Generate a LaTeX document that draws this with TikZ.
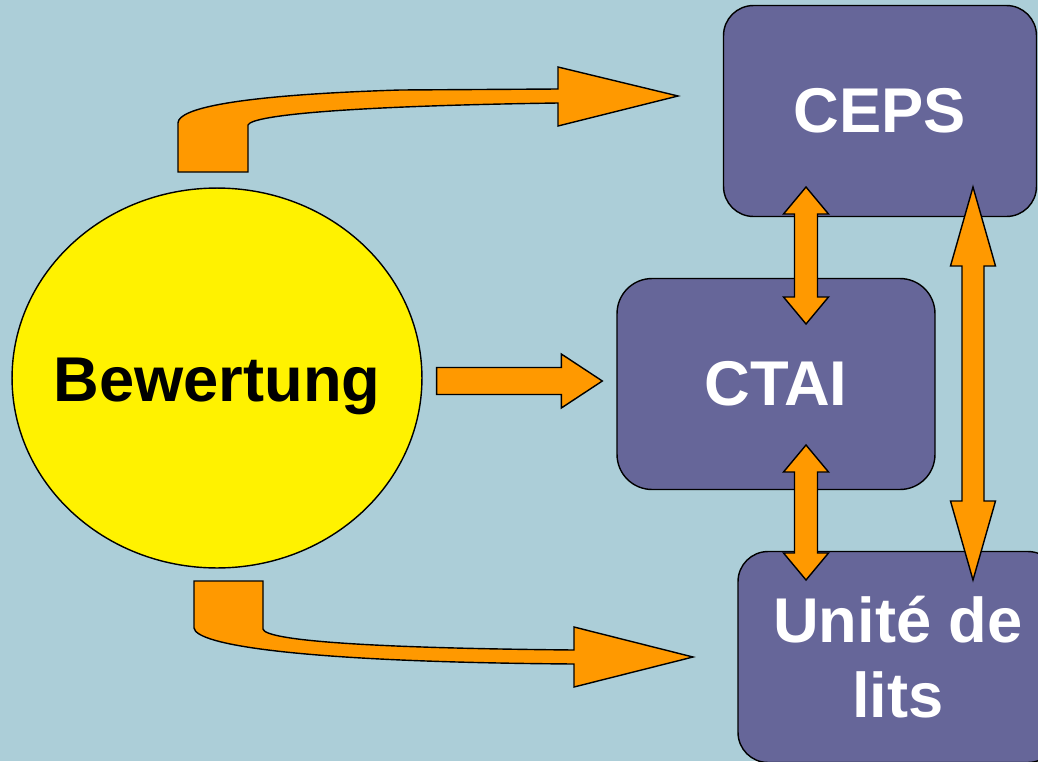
\documentclass[tikz,border=0pt]{standalone}
\usepackage{fontspec}
\setmainfont{Liberation Sans}
\usetikzlibrary{shapes.geometric, calc}

\definecolor{bgblue}{RGB}{172,206,216}
\definecolor{boxpurple}{RGB}{102,102,153}
\definecolor{arroworange}{RGB}{255,153,0}

% vertical double block arrow: top tip, bottom tip, head length, shaft half width, head half width
\newcommand{\vdouble}[5]{%
    \draw[blockarrow] (#1) -- ($(#1)+(#5,#3)$) -- ($(#1)+(#4,#3)$) -- ($(#2)+(#4,-#3)$)
        -- ($(#2)+(#5,-#3)$) -- (#2) -- ($(#2)+(-#5,-#3)$) -- ($(#2)+(-#4,-#3)$)
        -- ($(#1)+(-#4,#3)$) -- ($(#1)+(-#5,#3)$) -- cycle;}

\begin{document}
\begin{tikzpicture}[x=0.02cm, y=-0.02cm,
    bigfont/.style={font=\bfseries\fontsize{36}{43}\selectfont},
    box/.style={draw, line width=0.8pt, fill=boxpurple, rounded corners=0.6cm, text=white, bigfont,
        align=center, minimum width=6.26cm, minimum height=4.22cm},
    blockarrow/.style={draw, line width=0.8pt, fill=arroworange, line join=miter}]
    \useasboundingbox (0,0) rectangle (1038,761);
    \fill[bgblue] (0,0) rectangle (1038,761);
    \clip (0,0) rectangle (1038,761);

    \node[ellipse, draw, line width=0.8pt, fill=yellow, inner sep=0pt, minimum width=8.2cm, minimum height=7.6cm] (BEW) at (217,378) {};
    \node[bigfont, anchor=base] (BEWtext) at ($(BEW.center)+(0,23)$) {Bewertung};
    \node[box] (CEPS) at (880,111) {CEPS};
    \node[box, minimum width=6.36cm, rounded corners=0.7cm] (CTAI) at (776,384) {CTAI};
    \node[box, minimum width=6.4cm] (UDL) at (898,657) {Unité de\\lits};

    % straight arrow to CTAI
    \coordinate (s1) at ($(BEW.east)+(14,3)$);
    \coordinate (s2) at ($(CTAI.west)+(-14,-3)$);
    \draw[blockarrow] ($(s1)+(0,-13.5)$) -- ($(s2)+(-41,-13.5)$) -- ($(s2)+(-41,-27)$) -- (s2)
        -- ($(s2)+(-41,27)$) -- ($(s2)+(-41,13.5)$) -- ($(s1)+(0,13.5)$) -- cycle;

    % bent arrow to CEPS
    \draw[blockarrow] (178,172) -- (178,123) .. controls (178,108) and (240,95) .. (400,90)
        -- (558,89) -- (558,67) -- (678,96) -- (558,126) -- (558,103)
        .. controls (350,106) and (252,115) .. (248,125) -- (248,172) -- cycle;

    % bent arrow to Unite de lits
    \draw[blockarrow] (194,581) -- (194,628) .. controls (196,645) and (300,662) .. (574,664)
        -- (574,687) -- (693,657) -- (574,627) -- (574,650)
        .. controls (360,648) and (265,640) .. (263,629) -- (263,581) -- cycle;

    % double arrows between the boxes
    \coordinate (a1) at (806,187);
    \coordinate (a2) at (806,324);
    \coordinate (b1) at (806,445);
    \coordinate (b2) at (806,580);
    \coordinate (c1) at (973,187);
    \coordinate (c2) at (973,580);
    \vdouble{a1}{a2}{27}{11.5}{22.5}
    \vdouble{b1}{b2}{27}{11.5}{22.5}
    \vdouble{c1}{c2}{79}{11}{22.5}
\end{tikzpicture}
\end{document}
